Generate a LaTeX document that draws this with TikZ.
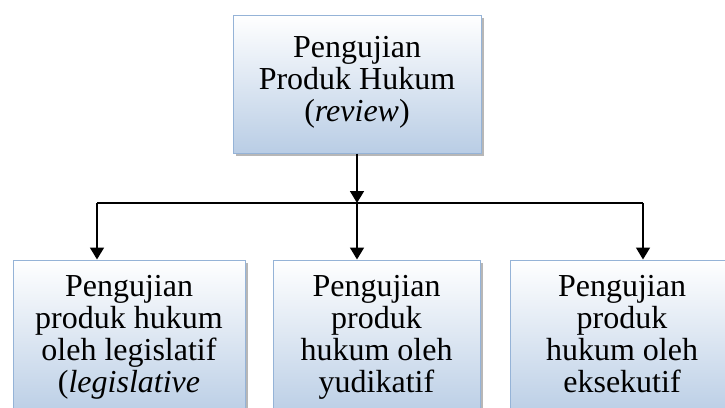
\documentclass[tikz,border=0pt]{standalone}
\usepackage{fontspec}
\setmainfont{Liberation Serif}
\usetikzlibrary{arrows.meta,shadows}
\definecolor{boxblue}{RGB}{185,205,229}
\definecolor{boxline}{RGB}{149,179,215}
\tikzset{
	hbox/.style={draw=boxline,line width=1pt,top color=white,bottom color=boxblue,
		drop shadow={shadow xshift=3pt,shadow yshift=-3pt,fill=black!35,opacity=.8},
		align=center,inner sep=0pt,font=\fontsize{32}{32}\selectfont},
	link/.style={line width=1.6pt},
	arrow/.style={link,-{Triangle[width=14pt,length=12pt]}}
}
\begin{document}
\begin{tikzpicture}[x=1pt,y=-1pt]
	\useasboundingbox (0,0) rectangle (725,407);
	\clip (0,0) rectangle (725,407);
	\fill[white] (0,0) rectangle (725,407);
	% kotak atas
	\node[hbox,minimum width=248pt,minimum height=138pt] (review) at (357,84)
		{Pengujian\\Produk Hukum\\(\textit{review})\strut};
	% kotak bawah
	\node[hbox,minimum width=232pt,minimum height=158pt] (legis) at (129,339)
		{Pengujian\\produk hukum\\oleh legislatif\\(\textit{legislative}\strut};
	\node[hbox,minimum width=207pt,minimum height=158pt] (yudi) at (376.5,339)
		{Pengujian\\produk\\hukum oleh\\yudikatif\strut};
	\node[hbox,minimum width=224pt,minimum height=158pt] (eksek) at (622,339)
		{Pengujian\\produk\\hukum oleh\\eksekutif\strut};
	% garis penghubung
	\coordinate (barL) at (97,203);
	\coordinate (barR) at (643,203);
	\draw[link] (barL) -- (barR);
	\draw[arrow] (review.south) -- (review.south |- barL);
	\draw[arrow] (review.south |- barL) -- (review.south |- yudi.north);
	\draw[arrow] (barL) -- (barL |- legis.north);
	\draw[arrow] (barR) -- (barR |- eksek.north);
\end{tikzpicture}
\end{document}
